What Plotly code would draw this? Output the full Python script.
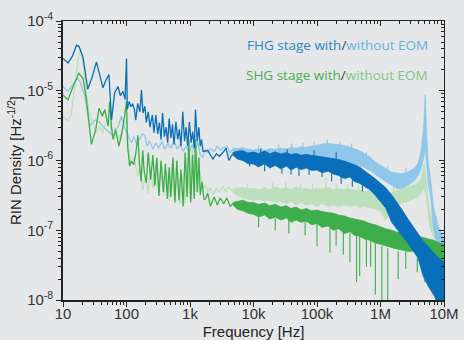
import plotly.graph_objects as go

# ---------------- data ----------------
# FHG stage with EOM (dark blue): low-frequency trace
fhg_eom_f = [10, 12, 14, 16.3, 17.9, 20.7, 24.5, 29, 33.6, 38, 42.6, 47, 53, 58, 65, 73.5, 80, 88, 95,
             100, 103, 110, 118, 125, 133, 140, 150, 163, 172, 182, 195, 205, 220, 235, 255, 270,
             290, 310, 330, 350, 370, 395, 420, 445, 470, 500, 530, 560, 600, 640, 680, 720, 770, 820, 870, 920,
             980, 1040, 1100, 1170, 1220, 1300, 1380, 1450, 1520, 1600,
             1700, 1900, 2100, 2300, 2600, 2900, 3300, 3700, 4100, 4700]
fhg_eom_v = [2.9e-5, 2.5e-5, 3.1e-5, 4.5e-5, 4.3e-5, 3.0e-5, 1.05e-5, 1.6e-5, 2.6e-5, 1.6e-5, 1.1e-5, 1.4e-5, 1.7e-5,
             3.8e-6, 9.3e-6, 1.15e-5, 8.5e-6, 9.8e-6, 7.5e-6,
             2.9e-5, 5.4e-6, 7.0e-6, 5.9e-6, 6.5e-6, 5.4e-6, 3.8e-6, 6.6e-6, 5.0e-6, 1.02e-5, 4.8e-6, 6.0e-6, 3.5e-6,
             5.0e-6, 3.0e-6, 4.5e-6, 2.5e-6,
             4.5e-6, 2.4e-6, 3.5e-6, 2.0e-6, 4.8e-6, 2.2e-6, 3.0e-6, 1.8e-6, 4.0e-6, 2.1e-6, 3.3e-6, 1.7e-6, 3.6e-6,
             2.0e-6, 2.8e-6, 1.6e-6, 5.0e-6, 1.9e-6, 3.0e-6, 1.6e-6, 3.6e-6, 1.8e-6, 2.6e-6, 1.5e-6, 5.4e-6, 1.9e-6,
             3.0e-6, 1.6e-6, 2.0e-6, 1.35e-6,
             1.35e-6, 1.4e-6, 1.2e-6, 1.05e-6, 1.25e-6, 1.15e-6, 1.3e-6, 1.5e-6, 1.0e-6, 1.25e-6]

# FHG stage without EOM (light blue): low-frequency trace
fhg_noeom_f = [10, 12, 14, 17, 18.5, 21.9, 26.3, 31.6, 37, 47.9, 61.7, 74, 83, 93, 112,
               120, 130, 145, 160, 180, 195, 210, 230, 260, 290, 320, 360, 400, 450, 500, 560, 630, 700, 780, 870,
               970, 1080, 1200, 1320, 1450, 1600,
               1700, 1900, 2100, 2400, 2700, 3000, 3400, 3800, 4300, 4700]
fhg_noeom_v = [1.15e-5, 9.8e-6, 1.2e-5, 1.5e-5, 1.35e-5, 8.7e-6, 3.1e-6, 3.8e-6, 3.6e-6, 2.75e-6, 2.25e-6, 3.1e-6,
               4.3e-6, 3.0e-6, 2.0e-6,
               1.8e-6, 2.2e-6, 1.7e-6, 2.0e-6, 2.4e-6, 2.3e-6, 1.6e-6, 1.9e-6, 1.45e-6, 1.8e-6, 1.5e-6, 1.85e-6,
               1.45e-6, 1.75e-6, 1.5e-6, 1.9e-6, 1.45e-6, 1.7e-6, 1.35e-6, 1.6e-6, 1.3e-6, 1.7e-6, 1.3e-6, 1.9e-6,
               1.2e-6, 1.1e-6,
               1.45e-6, 1.3e-6, 1.5e-6, 1.35e-6, 1.6e-6, 1.4e-6, 1.55e-6, 1.6e-6, 1.3e-6, 1.45e-6]

# SHG stage with EOM (green): low-frequency trace
shg_eom_f = [10, 12, 14.4, 17.8, 20.7, 23.4, 28, 32.7, 36.9, 41.7, 45.4, 51.3, 54.3, 57.8, 61.7, 67, 75.9, 84, 92,
             100, 104, 112, 119, 130, 140, 151, 160, 170, 180, 190, 205, 220, 240, 260, 280, 300, 325, 350, 380,
             410, 440, 470, 500, 540, 580, 620, 670, 720, 780, 840, 900, 960, 1030, 1100, 1160, 1220, 1300, 1380,
             1450, 1550, 1650,
             1750, 1900, 2100, 2400, 2700, 3000, 3400, 3800, 4300, 4700]
shg_eom_v = [8.7e-6, 7.4e-6, 1.15e-5, 1.78e-5, 1.5e-5, 7.4e-6, 1.7e-6, 2.75e-6, 5.6e-6, 4.3e-6, 5.4e-6, 3.1e-6,
             7.0e-6, 3.1e-6, 2.0e-6, 2.75e-6, 1.6e-6, 2.4e-6, 4.0e-6,
             7.0e-6, 1.6e-6, 8.3e-7, 9.8e-7, 8.7e-7, 1.25e-6, 2.3e-6, 9e-7, 5.0e-7, 1.4e-6, 7e-7, 4.8e-7, 1.3e-6,
             5.3e-7, 1.2e-6, 4.3e-7, 1.1e-6, 3.1e-7, 1.0e-6, 3.5e-7, 9e-7, 2.8e-7, 8e-7, 3.0e-7, 1.1e-6, 2.5e-7,
             1.0e-6, 2.7e-7, 7.4e-7, 2.2e-7, 1.3e-6, 3.0e-7, 2.0e-6, 2.5e-7, 1.2e-6, 2.8e-7, 2.0e-6, 3.5e-7, 1.1e-6,
             3.2e-7, 5.0e-7, 2.8e-7,
             2.8e-7, 3.4e-7, 2.2e-7, 3.0e-7, 2.3e-7, 2.9e-7, 2.4e-7, 2.9e-7, 2.2e-7, 2.4e-7]

# SHG stage without EOM (light green): low-frequency trace
shg_noeom_f = [10, 12, 13.5, 15.5, 17.5, 19.2, 21, 23, 25.5, 28.4, 33, 38.5, 42, 45.4, 53, 58, 65, 77, 85,
               100, 108, 118, 130, 151, 160, 180, 200, 220, 240, 260, 290, 320, 350, 390, 430, 470, 520, 570, 630,
               690, 760, 830, 910, 990, 1080, 1180, 1260, 1350, 1450, 1550, 1650,
               1750, 1900, 2100, 2300, 2600, 2900, 3300, 3700, 4000, 4700]
shg_noeom_v = [4.3e-6, 3.7e-6, 4.6e-6, 1.3e-5, 3.0e-5, 4.0e-5, 2.0e-5, 1.15e-5, 5.0e-6, 3.8e-6, 2.5e-6, 3.1e-6,
               2.4e-6, 3.2e-6, 3.8e-6, 2.5e-6, 3.0e-6, 2.0e-6, 2.75e-6,
               3.8e-6, 1.5e-6, 9e-7, 1.1e-6, 5.9e-7, 8e-7, 3.8e-7, 6e-7, 3.4e-7, 8e-7, 4e-7, 9e-7, 3.5e-7, 8e-7,
               3.2e-7, 7e-7, 2.6e-7, 9e-7, 2.6e-7, 8e-7, 2.4e-7, 6.5e-7, 2.4e-7, 1.1e-6, 2.8e-7, 1.5e-6, 3e-7,
               1.6e-6, 4e-7, 7e-7, 4.5e-7, 4.0e-7,
               4.5e-7, 3.6e-7, 4.0e-7, 3.2e-7, 4.0e-7, 3.5e-7, 4.2e-7, 3.6e-7, 4.1e-7, 3.7e-7]

# High-frequency noise bands (lower / upper envelope)
band_f = [4.7e3, 5.6e3, 6.8e3, 8.2e3,
          1e4, 1.2e4, 1.5e4, 1.8e4, 2.2e4, 2.7e4, 3.3e4, 3.9e4, 4.7e4, 5.6e4, 6.8e4, 8.2e4,
          1e5, 1.2e5, 1.5e5, 1.8e5, 2.2e5, 2.7e5, 3.3e5, 3.9e5, 4.7e5, 5.6e5, 6.8e5, 8.2e5,
          1e6, 1.2e6, 1.5e6, 1.8e6, 2.2e6, 2.7e6, 3.3e6, 3.9e6, 4.7e6, 5.6e6, 6.8e6, 8.2e6, 1e7]
fhg_eom_lo = [1.2e-6, 1.05e-6, 1.0e-6, 9.0e-7,
              8.9e-7, 8.1e-7, 9.0e-7, 7.8e-7, 8.5e-7, 7.6e-7, 8.3e-7, 7.3e-7, 8.0e-7, 7.4e-7, 7.8e-7, 7.2e-7,
              7.3e-7, 6.7e-7, 7.0e-7, 6.4e-7, 6.1e-7, 5.5e-7, 5.8e-7, 5.0e-7, 4.7e-7, 4.2e-7, 3.8e-7, 3.2e-7,
              2.6e-7, 2.1e-7, 1.3e-7, 1.05e-7, 8.5e-8, 6.5e-8, 5.0e-8, 4.0e-8, 2.2e-8, 1.6e-8, 1.2e-8, 9e-9, 8e-9]
fhg_eom_hi = [1.3e-6, 1.36e-6, 1.38e-6, 1.28e-6,
              1.32e-6, 1.26e-6, 1.37e-6, 1.25e-6, 1.33e-6, 1.24e-6, 1.3e-6, 1.22e-6, 1.26e-6, 1.19e-6, 1.23e-6, 1.18e-6,
              1.16e-6, 1.13e-6, 1.1e-6, 1.08e-6, 1.03e-6, 9.8e-7, 9.3e-7, 8.7e-7, 8.0e-7, 7.1e-7, 6.4e-7, 5.5e-7,
              4.7e-7, 4.1e-7, 3.2e-7, 2.55e-7, 1.95e-7, 1.45e-7, 1.1e-7, 8.7e-8, 7.0e-8, 5.9e-8, 4.8e-8, 4.0e-8, 3.5e-8]
shg_eom_lo = [2.3e-7, 2.0e-7, 1.9e-7, 1.75e-7,
              1.7e-7, 1.55e-7, 1.65e-7, 1.45e-7, 1.55e-7, 1.4e-7, 1.5e-7, 1.3e-7, 1.4e-7, 1.3e-7, 1.35e-7, 1.2e-7,
              1.25e-7, 1.1e-7, 1.15e-7, 1.0e-7, 1.05e-7, 9e-8, 9.5e-8, 8.5e-8, 8.2e-8, 7.5e-8, 7.2e-8, 6.6e-8,
              6.3e-8, 6.0e-8, 5.6e-8, 5.4e-8, 5.2e-8, 5.0e-8, 5.0e-8, 4.6e-8, 4.5e-8, 4.0e-8, 3.8e-8, 3.3e-8, 3.0e-8]
shg_eom_hi = [2.5e-7, 2.6e-7, 2.7e-7, 2.5e-7,
              2.5e-7, 2.35e-7, 2.45e-7, 2.25e-7, 2.35e-7, 2.15e-7, 2.25e-7, 2.05e-7, 2.15e-7, 1.95e-7, 2.05e-7, 1.9e-7,
              1.95e-7, 1.85e-7, 1.8e-7, 1.75e-7, 1.65e-7, 1.6e-7, 1.5e-7, 1.45e-7, 1.4e-7, 1.35e-7, 1.25e-7, 1.2e-7,
              1.12e-7, 1.05e-7, 1.0e-7, 9.4e-8, 9.1e-8, 8.9e-8, 8.5e-8, 8.1e-8, 7.9e-8, 7.5e-8, 7.2e-8, 6.7e-8, 6.2e-8]

fhg_noeom_band_f = [4.7e3, 5.6e3, 6.8e3, 8.2e3,
                    1e4, 1.2e4, 1.5e4, 1.8e4, 2.2e4, 2.7e4, 3.3e4, 3.9e4, 4.7e4, 5.6e4, 6.8e4, 8.2e4,
                    1e5, 1.2e5, 1.5e5, 1.8e5, 2.2e5, 2.7e5, 3.3e5, 3.9e5, 4.7e5, 5.6e5, 6.8e5, 8.2e5,
                    1e6, 1.2e6, 1.5e6, 1.8e6, 2.2e6, 2.7e6, 3.3e6, 3.9e6, 4.4e6, 4.8e6, 5.05e6, 5.3e6, 5.6e6,
                    6.2e6, 6.8e6, 8.2e6, 1e7]
fhg_noeom_lo = [1.4e-6, 1.25e-6, 1.2e-6, 1.1e-6,
                1.0e-6, 1.05e-6, 9.6e-7, 1.05e-6, 9.8e-7, 1.02e-6, 9.7e-7, 1.05e-6, 1.0e-6, 1.03e-6, 1.0e-6, 1.05e-6,
                1.02e-6, 1.07e-6, 1.05e-6, 1.0e-6, 9.8e-7, 9.5e-7, 9.1e-7, 8.7e-7, 8.3e-7, 7.9e-7, 7.2e-7, 6.3e-7,
                5.6e-7, 5.0e-7, 4.4e-7, 4.0e-7, 4.0e-7, 4.4e-7, 5.0e-7, 6.0e-7, 7.9e-7, 1.12e-6, 1.58e-6, 1.0e-6,
                5.0e-7, 2.8e-7, 1.12e-7, 5.0e-8, 3.2e-8]
fhg_noeom_hi = [1.5e-6, 1.48e-6, 1.52e-6, 1.44e-6,
                1.42e-6, 1.46e-6, 1.4e-6, 1.48e-6, 1.44e-6, 1.5e-6, 1.46e-6, 1.54e-6, 1.5e-6, 1.58e-6, 1.55e-6,
                1.62e-6, 1.66e-6, 1.72e-6, 1.76e-6, 1.72e-6, 1.68e-6, 1.64e-6, 1.56e-6, 1.47e-6, 1.38e-6, 1.26e-6,
                1.13e-6, 9.6e-7, 8.5e-7, 7.6e-7, 6.8e-7, 6.6e-7, 6.5e-7, 6.8e-7, 7.6e-7, 9.1e-7, 1.41e-6, 3.16e-6,
                8.7e-6, 2.8e-6, 1.0e-6, 5.0e-7, 2.2e-7, 1.12e-7, 7.4e-8]

shg_noeom_band_f = [4.7e3, 5.6e3, 6.8e3, 8.2e3,
                    1e4, 1.2e4, 1.5e4, 1.8e4, 2.2e4, 2.7e4, 3.3e4, 3.9e4, 4.7e4, 5.6e4, 6.8e4, 8.2e4,
                    1e5, 1.2e5, 1.5e5, 1.8e5, 2.2e5, 2.7e5, 3.3e5, 3.9e5, 4.7e5, 5.6e5, 6.8e5, 8.2e5,
                    1e6, 1.2e6, 1.5e6, 1.8e6, 2.2e6, 2.7e6, 3.3e6, 3.9e6, 4.4e6, 4.85e6, 5.3e6, 5.9e6, 6.8e6,
                    8.2e6, 1e7]
shg_noeom_lo = [3.5e-7, 3.1e-7, 2.9e-7, 2.8e-7,
                2.7e-7, 2.8e-7, 2.6e-7, 2.7e-7, 2.5e-7, 2.6e-7, 2.4e-7, 2.6e-7, 2.3e-7, 2.5e-7, 2.3e-7, 2.4e-7,
                2.2e-7, 2.4e-7, 2.2e-7, 2.3e-7, 2.2e-7, 2.3e-7, 2.2e-7, 2.3e-7, 2.1e-7, 2.2e-7, 2.1e-7, 2.0e-7,
                1.9e-7, 1.4e-7, 2.0e-7, 2.3e-7, 2.5e-7, 2.6e-7, 2.8e-7, 3.0e-7, 3.4e-7, 4.0e-7, 3.0e-7, 1.2e-7,
                8e-8, 6.5e-8, 6e-8]
shg_noeom_hi = [3.9e-7, 4.0e-7, 4.1e-7, 3.9e-7,
                4.0e-7, 3.8e-7, 4.1e-7, 3.8e-7, 4.2e-7, 3.9e-7, 4.1e-7, 3.8e-7, 4.2e-7, 3.9e-7, 4.0e-7, 3.8e-7,
                4.0e-7, 3.9e-7, 4.1e-7, 3.8e-7, 4.0e-7, 3.8e-7, 3.9e-7, 3.7e-7, 3.8e-7, 3.6e-7, 3.7e-7, 3.5e-7,
                3.4e-7, 3.1e-7, 3.5e-7, 3.7e-7, 3.9e-7, 4.1e-7, 4.4e-7, 4.7e-7, 5.5e-7, 9.1e-7, 5.0e-7, 1.9e-7,
                1.3e-7, 8.5e-8, 7e-8]

# Isolated noise spikes (frequency, start value, end value)
fhg_eom_spike_f = [8.7e3, 1.3e4, 1.5e4, 2.8e4, 3.4e4, 3.9e4, 5.2e4, 7.5e4, 9.0e4, 1.2e5, 1.7e5, 2.0e5, 2.4e5,
                   3.6e5, 5.2e5, 7.5e6, 9.0e6]
fhg_eom_spike_a = [1.2e-6, 1.25e-6, 9e-7, 8e-7, 1.25e-6, 9e-7, 7.8e-7, 7.5e-7, 1.15e-6, 8e-7, 6.5e-7, 1.05e-6,
                   6.0e-7, 5.4e-7, 4.5e-7, 3e-8, 2.5e-8]
fhg_eom_spike_b = [8.3e-7, 1.5e-6, 7.0e-7, 6.5e-7, 1.45e-6, 6.3e-7, 6.0e-7, 6.2e-7, 1.4e-6, 5.8e-7, 5.0e-7,
                   1.3e-6, 4.6e-7, 4.2e-7, 3.6e-7, 8e-9, 8e-9]
fhg_noeom_spike_f = [1.2e4, 2.5e4, 4.0e4, 6.0e4, 9.0e4, 1.45e5, 2.3e5, 3.5e5, 6.0e5, 1.3e6, 2.5e6]
fhg_noeom_spike_a = [1.4e-6, 1.4e-6, 1.5e-6, 1.5e-6, 1.6e-6, 1.7e-6, 1.6e-6, 1.5e-6, 1.1e-6, 7.0e-7, 6.5e-7]
fhg_noeom_spike_b = [1.65e-6, 1.7e-6, 1.75e-6, 1.8e-6, 1.9e-6, 2.0e-6, 1.9e-6, 1.75e-6, 1.3e-6, 8.3e-7, 7.8e-7]
shg_eom_spike_f = [1.2e4, 2.2e4, 3.6e4, 6.5e4, 1.0e5, 1.6e5, 2.0e5, 2.6e5, 3.3e5, 4.2e5, 4.7e5, 6.0e5, 7.0e5,
                   8.3e5, 1.05e6, 1.3e6, 1.9e6, 2.5e6, 3.8e6, 5.0e6, 6.5e6, 8.5e6]
shg_eom_spike_a = [1.6e-7, 1.5e-7, 1.4e-7, 1.35e-7, 1.3e-7, 1.1e-7, 1.0e-7, 1.0e-7, 9e-8, 9e-8, 8.5e-8, 7.5e-8,
                   7e-8, 6.5e-8, 6e-8, 5.5e-8, 5e-8, 5e-8, 4e-8, 4e-8, 4e-8, 3e-8]
shg_eom_spike_b = [1.1e-7, 1.0e-7, 9e-8, 8.5e-8, 5.9e-8, 4.8e-8, 6e-8, 4.5e-8, 3.5e-8, 1.8e-8, 2.2e-8, 3e-8,
                   3e-8, 1.2e-8, 1e-8, 1e-8, 2e-8, 2.8e-8, 2.5e-8, 1.8e-8, 2e-8, 1.2e-8]
shg_noeom_spike_f = [8.0e3, 2.0e4, 3.2e4, 5.5e4, 8.5e4, 1.38e5, 2.0e5, 3.0e5, 4.5e5, 7.0e5, 1.6e6, 2.8e6]
shg_noeom_spike_a = [3.8e-7, 3.8e-7, 3.9e-7, 3.8e-7, 3.7e-7, 3.8e-7, 3.8e-7, 3.6e-7, 3.6e-7, 3.5e-7, 3.4e-7,
                     4.0e-7]
shg_noeom_spike_b = [4.7e-7, 4.8e-7, 4.9e-7, 4.7e-7, 4.6e-7, 5.6e-7, 4.7e-7, 4.6e-7, 4.5e-7, 4.5e-7, 4.3e-7,
                     4.9e-7]

# axis ticks
x_tickvals = [1e1, 1e2, 1e3, 1e4, 1e5, 1e6, 1e7]
x_ticktext = ["10", "100", "1k", "10k", "100k", "1M", "10M"]
y_tickvals = [1e-8, 1e-7, 1e-6, 1e-5, 1e-4]
y_ticktext = ["10<sup>-8</sup>", "10<sup>-7</sup>", "10<sup>-6</sup>", "10<sup>-5</sup>", "10<sup>-4</sup>"]
x_minor = [m * d for d in [1e1, 1e2, 1e3, 1e4, 1e5, 1e6] for m in range(2, 10)]
y_minor = [m * d for d in [1e-8, 1e-7, 1e-6, 1e-5] for m in range(2, 10)]

# ---------------- styling ----------------
C_FHG = "#0a6fba"
C_FHG_NO = "#8fc7ea"
C_SHG = "#3dae4a"
C_SHG_NO = "#bcdfbc"
BG = "#e6e7e8"

fig = go.Figure()


def add_series(color, lf, lv, bf, blo, bhi, sf, sa, sb):
    fig.add_trace(go.Scatter(x=lf, y=lv, mode="lines", line=dict(color=color, width=1.3),
                             hoverinfo="skip", showlegend=False))
    fig.add_trace(go.Scatter(x=bf, y=blo, mode="lines", line=dict(color=color, width=0.8),
                             hoverinfo="skip", showlegend=False))
    fig.add_trace(go.Scatter(x=bf, y=bhi, mode="lines", line=dict(color=color, width=0.8),
                             fill="tonexty", fillcolor=color, hoverinfo="skip", showlegend=False))
    if sf:
        xs, ys = [], []
        for f, a, b in zip(sf, sa, sb):
            xs += [f, f, None]
            ys += [a, b, None]
        fig.add_trace(go.Scatter(x=xs, y=ys, mode="lines", line=dict(color=color, width=1.1),
                                 hoverinfo="skip", showlegend=False))


add_series(C_SHG_NO, shg_noeom_f, shg_noeom_v, shg_noeom_band_f, shg_noeom_lo, shg_noeom_hi,
           shg_noeom_spike_f, shg_noeom_spike_a, shg_noeom_spike_b)
add_series(C_FHG_NO, fhg_noeom_f, fhg_noeom_v, fhg_noeom_band_f, fhg_noeom_lo, fhg_noeom_hi,
           fhg_noeom_spike_f, fhg_noeom_spike_a, fhg_noeom_spike_b)
add_series(C_SHG, shg_eom_f, shg_eom_v, band_f, shg_eom_lo, shg_eom_hi,
           shg_eom_spike_f, shg_eom_spike_a, shg_eom_spike_b)
add_series(C_FHG, fhg_eom_f, fhg_eom_v, band_f, fhg_eom_lo, fhg_eom_hi,
           fhg_eom_spike_f, fhg_eom_spike_a, fhg_eom_spike_b)

# empty trace to anchor mirrored top/right axes
fig.add_trace(go.Scatter(x=[], y=[], xaxis="x2", yaxis="y2", hoverinfo="skip", showlegend=False))

tick_font = dict(family="Liberation Sans, Arial, sans-serif", size=15, color="#333333")
title_font = dict(family="Liberation Sans, Arial, sans-serif", size=15, color="#222222")
axis_common = dict(type="log", showgrid=False, zeroline=False, showline=True, linecolor="#222222",
                   linewidth=1.6, ticks="outside", ticklen=5, tickwidth=1.2, tickcolor="#222222",
                   tickfont=tick_font, automargin=False)

fig.update_layout(
    width=464, height=340,
    margin=dict(l=63, r=20, t=21, b=40),
    paper_bgcolor=BG, plot_bgcolor=BG,
    xaxis=dict(axis_common, range=[1, 7], tickmode="array", tickvals=x_tickvals, ticktext=x_ticktext,
               ticklabelstandoff=-6,
               minor=dict(tickmode="array", tickvals=x_minor, ticks="outside", ticklen=3, tickwidth=1,
                          tickcolor="#222222", showgrid=False),
               title=dict(text="Frequency [Hz]", standoff=8, font=title_font)),
    yaxis=dict(axis_common, range=[-8, -4], tickmode="array", tickvals=y_tickvals, ticktext=y_ticktext,
               minor=dict(tickmode="array", tickvals=y_minor, ticks="outside", ticklen=3, tickwidth=1,
                          tickcolor="#222222", showgrid=False),
               title=dict(text="RIN Density [Hz<sup>-1/2</sup>]", standoff=2, font=title_font)),
    xaxis2=dict(type="log", range=[1, 7], overlaying="x", side="top", anchor="y2", showgrid=False,
                zeroline=False, showline=True, linecolor="#222222", linewidth=1.4, ticks="inside",
                ticklen=5, tickcolor="#222222", tickmode="array", tickvals=x_tickvals, showticklabels=False,
                minor=dict(tickmode="array", tickvals=x_minor, ticks="inside", ticklen=3,
                           tickcolor="#222222", showgrid=False)),
    yaxis2=dict(type="log", range=[-8, -4], overlaying="y", side="right", anchor="x2", showgrid=False,
                zeroline=False, showline=True, linecolor="#222222", linewidth=1.4, ticks="inside",
                ticklen=5, tickcolor="#222222", tickmode="array", tickvals=y_tickvals, showticklabels=False,
                minor=dict(tickmode="array", tickvals=y_minor, ticks="inside", ticklen=3,
                           tickcolor="#222222", showgrid=False)),
    showlegend=False,
)

leg_font = dict(family="Open Sans, Noto Sans, sans-serif", size=13.5)
fig.add_annotation(xref="paper", yref="paper", x=0.962, y=0.915, xanchor="right", yanchor="middle",
                   showarrow=False, font=leg_font,
                   text='<span style="color:#2a86cb">FHG stage with</span><span style="color:#444">/</span>'
                        '<span style="color:#63b2e3">without EOM</span>')
fig.add_annotation(xref="paper", yref="paper", x=0.962, y=0.805, xanchor="right", yanchor="middle",
                   showarrow=False, font=leg_font,
                   text='<span style="color:#44b052">SHG stage with</span><span style="color:#444">/</span>'
                        '<span style="color:#80c886">without EOM</span>')

fig.write_html("out.html", config={"displayModeBar": False},
               post_script="document.body.style.margin='0';")
